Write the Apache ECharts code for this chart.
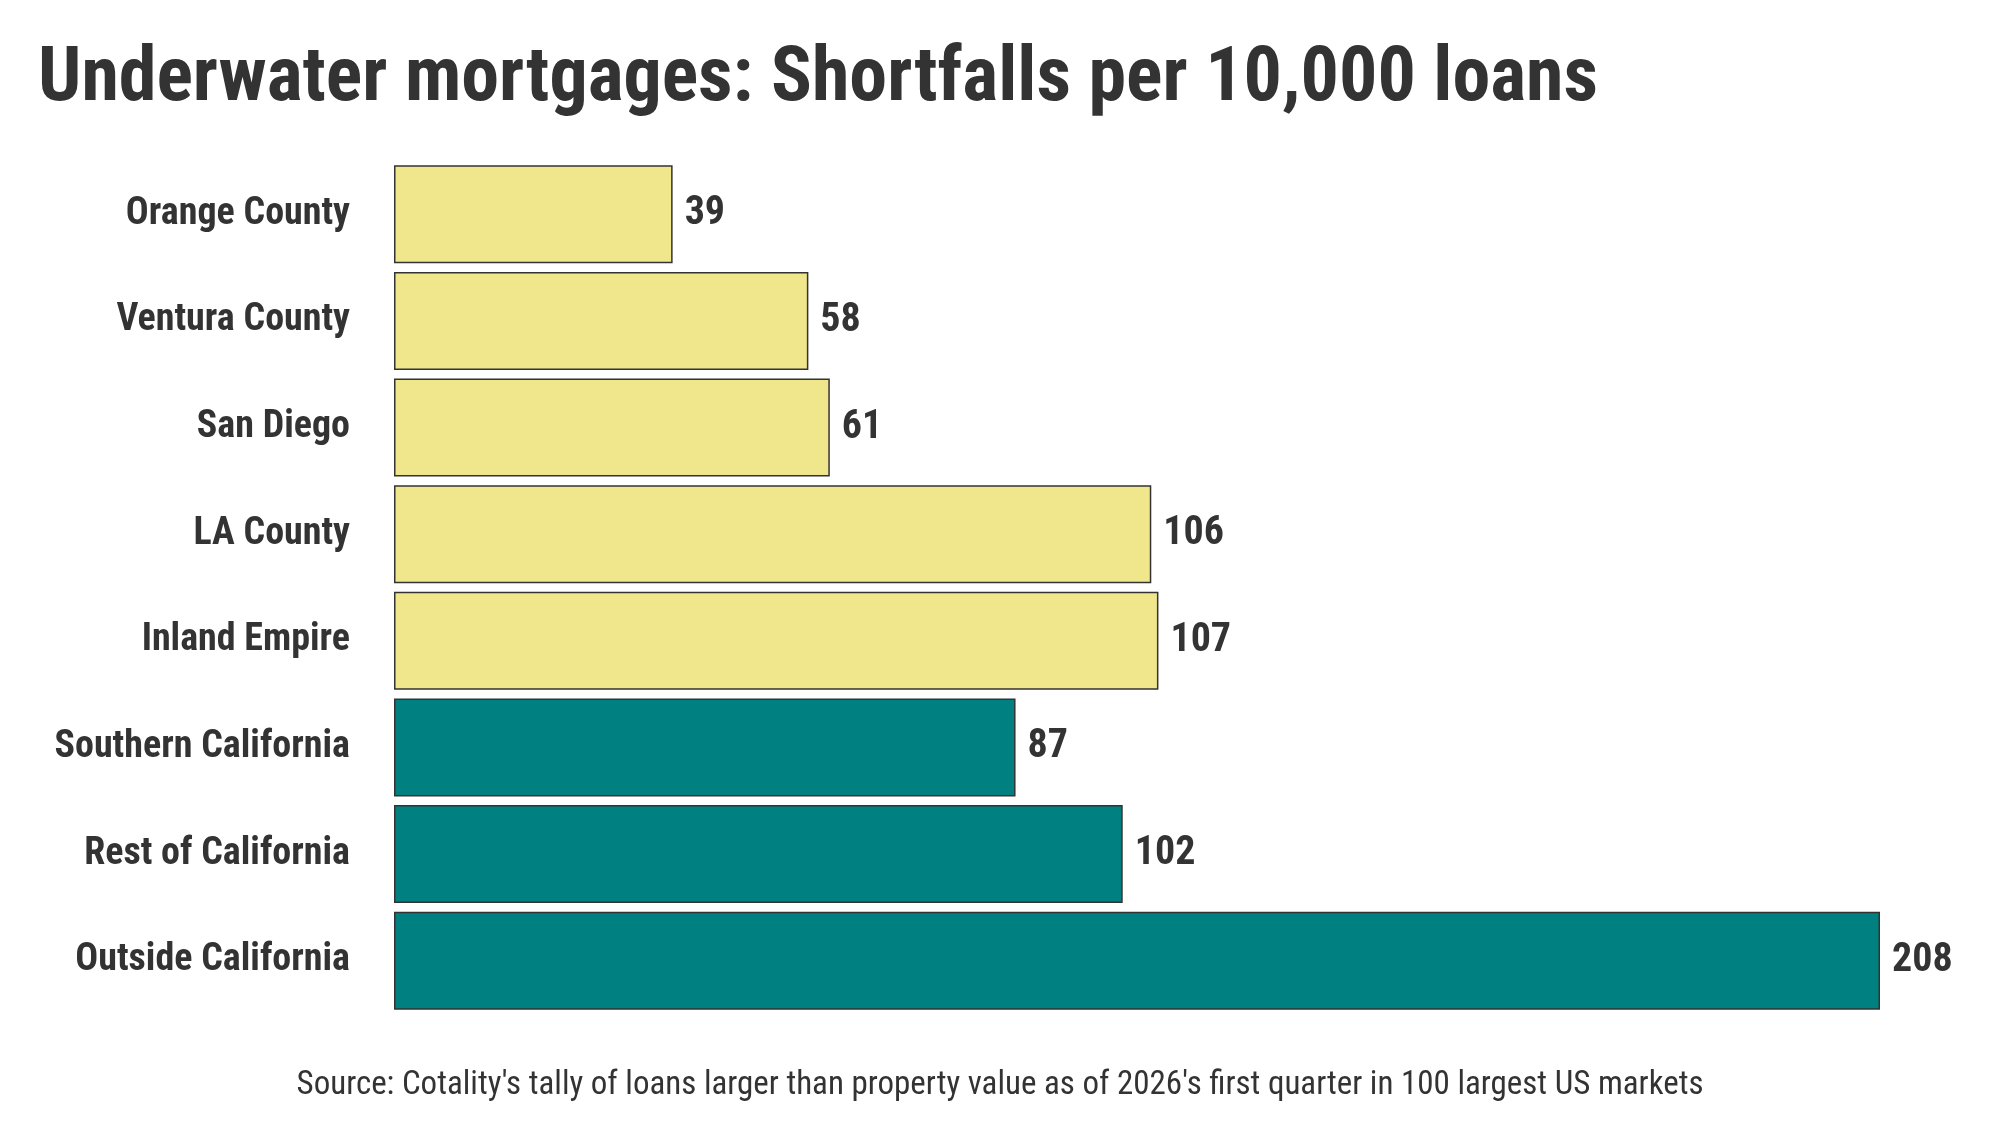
<!DOCTYPE html>
<html style="height: 100%">
<head>
<meta charset="utf-8">
<script src="https://cdn.jsdelivr.net/npm/echarts@6/dist/echarts.min.js"></script>
</head>
<body style="height: 100%; margin: 0; background: #fff">
<div id="container" style="width: 2000px; height: 1125px"></div>
<script>
var categories = ['Orange County', 'Ventura County', 'San Diego', 'LA County', 'Inland Empire',
                  'Southern California', 'Rest of California', 'Outside California'];
var values = [39, 58, 61, 106, 107, 87, 102, 208];
var colors = ['#f0e68c', '#f0e68c', '#f0e68c', '#f0e68c', '#f0e68c', '#008080', '#008080', '#008080'];

var font = '"Liberation Sans Narrow", "Roboto Condensed", Roboto, sans-serif';
var myChart = echarts.init(document.getElementById('container'));

var option = {
    backgroundColor: '#ffffff',
    animation: false,
    title: [{
        text: 'Underwater mortgages: Shortfalls per 10,000 loans',
        left: 33, top: 38,
        textStyle: { fontFamily: font, fontWeight: 'bold', fontSize: 76, color: '#333333' }
    }, {
        text: "Source: Cotality's tally of loans larger than property value as of 2026's first quarter in 100 largest US markets",
        left: 'center', top: 1064,
        textStyle: { fontFamily: font, fontWeight: 'normal', fontSize: 33, color: '#333333' }
    }],
    grid: { left: 394, right: 120, top: 161, bottom: 111 },
    xAxis: { type: 'value', min: 0, max: 208, show: false },
    yAxis: {
        type: 'category',
        inverse: true,
        data: categories,
        axisLine: { show: false },
        axisTick: { show: false },
        axisLabel: { margin: 44, fontFamily: font, fontWeight: 'bold', fontSize: 38, color: '#333333' }
    },
    series: [{
        type: 'bar',
        barCategoryGap: '8%',
        data: values.map(function (v, i) {
            return { value: v, itemStyle: { color: colors[i] } };
        }),
        itemStyle: { borderColor: '#333333', borderWidth: 1.5 },
        label: {
            show: true, position: 'right', distance: 12,
            fontFamily: font, fontWeight: 'bold', fontSize: 40, color: '#333333'
        }
    }]
};
myChart.setOption(option);
</script>
</body>
</html>
